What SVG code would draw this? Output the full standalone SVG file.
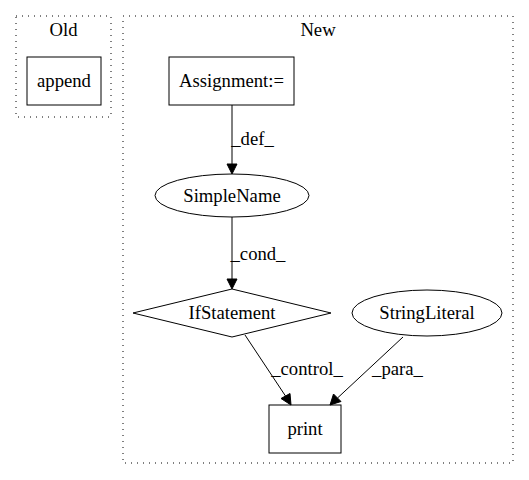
<svg xmlns="http://www.w3.org/2000/svg" width="529" height="480" viewBox="0 0 529 480">
<style>
.t{font-family:"Liberation Serif","Times New Roman",Times,serif;font-size:18.67px;text-anchor:middle;fill:#000}
.cl{fill:none;stroke:#000;stroke-width:1;stroke-dasharray:1,5}
.n{fill:none;stroke:#000;stroke-width:1}
.e{fill:none;stroke:#000;stroke-width:1}
.h{fill:#000;stroke:#000;stroke-width:1}
</style>
<rect width="529" height="480" fill="#fff"/>
<g id="cluster_old">
<rect class="cl" x="16" y="16" width="95" height="101"/>
<text class="t" x="63.5" y="36">Old</text>
</g>
<g id="cluster_new">
<rect class="cl" x="123" y="16" width="390" height="447"/>
<text class="t" x="318" y="36">New</text>
</g>
<g id="append">
<rect class="n" x="27" y="57" width="74" height="48"/>
<text class="t" x="64" y="87">append</text>
</g>
<g id="assignment">
<rect class="n" x="169" y="57" width="125" height="48"/>
<text class="t" x="231.5" y="87">Assignment:=</text>
</g>
<g id="simplename">
<ellipse class="n" cx="232" cy="195.5" rx="77" ry="21.5"/>
<text class="t" x="232" y="202">SimpleName</text>
</g>
<g id="ifstatement">
<polygon class="n" points="232,289 331,313 232,337 133,313"/>
<text class="t" x="232" y="319">IfStatement</text>
</g>
<g id="stringliteral">
<ellipse class="n" cx="427" cy="313" rx="75" ry="23"/>
<text class="t" x="427" y="319">StringLiteral</text>
</g>
<g id="print">
<rect class="n" x="269" y="405" width="72" height="48"/>
<text class="t" x="305" y="435">print</text>
</g>
<g id="edges">
<line class="e" x1="232" y1="105" x2="232" y2="164"/>
<polygon class="h" points="227,164 237,164 232,174"/>
<text class="t" x="252.5" y="145">_def_</text>
<line class="e" x1="232" y1="217" x2="232" y2="279"/>
<polygon class="h" points="227,279 237,279 232,289"/>
<text class="t" x="258" y="260">_cond_</text>
<line class="e" x1="245" y1="335" x2="285.5" y2="396"/>
<polygon class="h" points="281,398.5 290,393.5 291,405"/>
<text class="t" x="307" y="375">_control_</text>
<line class="e" x1="403" y1="337" x2="337.5" y2="398"/>
<polygon class="h" points="333.5,394 341,401.5 330,405"/>
<text class="t" x="397.5" y="375">_para_</text>
</g>
</svg>
